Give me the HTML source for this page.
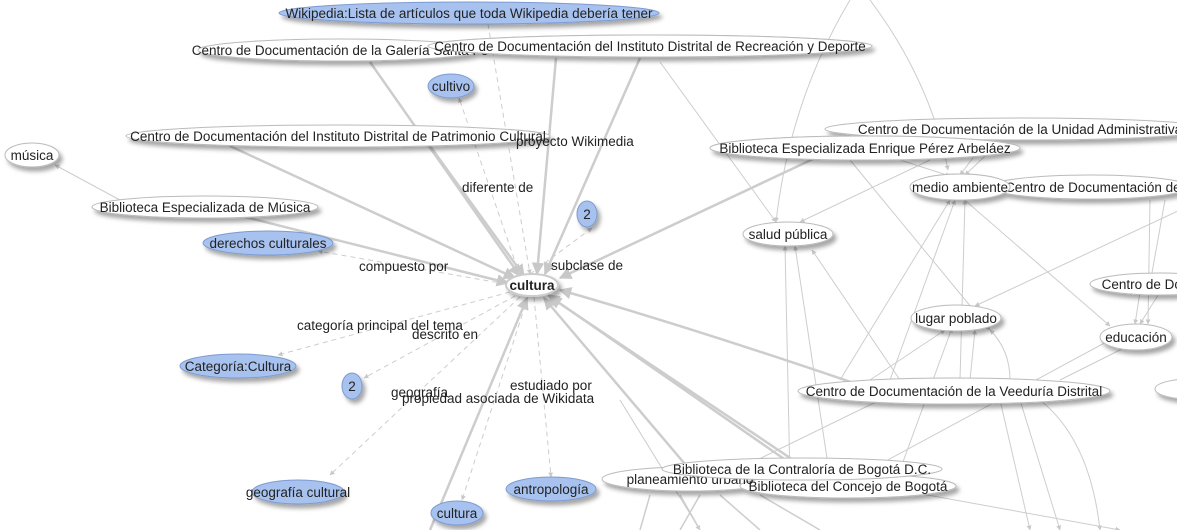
<!DOCTYPE html>
<html><head><meta charset="utf-8"><style>
html,body{margin:0;padding:0;background:#fff;width:1177px;height:530px;overflow:hidden}
svg text{font-family:"Liberation Sans",sans-serif;font-size:13.5px;fill:#222}
</style></head><body>
<svg width="1177" height="530" viewBox="0 0 1177 530" xmlns="http://www.w3.org/2000/svg">
<defs>
<marker id="a" viewBox="0 0 10 10" refX="9" refY="5" markerWidth="5" markerHeight="5" orient="auto"><path d="M0,0L10,5L0,10z" fill="#c8c8c8"/></marker>
<filter id="s" x="-20%" y="-50%" width="140%" height="220%"><feDropShadow dx="3" dy="4" stdDeviation="2" flood-color="#000" flood-opacity="0.35"/></filter>
</defs>
<g fill="none" stroke="#cdcdcd">
<g stroke-width="2.5" marker-end="url(#a)">
<path d="M370,62 L520,276"/>
<path d="M556,58 L537,274"/>
<path d="M640,58 L545,274"/>
<path d="M430,146 L524,276"/>
<path d="M230,146 L515,278"/>
<path d="M245,217 L508,283"/>
<path d="M828,152 L560,278"/>
<path d="M880,392 Q700,330 560,290"/>
<path d="M800,470 L548,295"/>
<path d="M820,478 L550,297"/>
<path d="M690,470 L544,298"/>
<path d="M430,530 L527,298"/>
</g>
<g stroke-dasharray="5,4" marker-end="url(#a)" stroke-width="1">
<path d="M488,24 L530,274"/>
<path d="M520,276 L459,98"/>
<path d="M530,274 L592,228"/>
<path d="M506,284 L318,251"/>
<path d="M510,292 L278,355"/>
<path d="M515,296 L364,378"/>
<path d="M520,297 L330,475"/>
<path d="M534,297 L551,477"/>
<path d="M528,297 L462,500"/>
</g>
<g stroke-width="1" marker-end="url(#a)">
<path d="M120,200 L55,165"/>
<path d="M660,62 L776,222"/>
<path d="M850,0 Q790,100 776,222"/>
<path d="M870,0 Q930,80 948,170"/>
<path d="M900,160 L950,176"/>
<path d="M985,142 L960,175"/>
<path d="M1000,142 L965,175"/>
<path d="M930,160 L800,222"/>
<path d="M850,160 L990,330"/>
<path d="M1180,210 L975,306"/>
<path d="M1150,200 L1148,324"/>
<path d="M960,196 L1110,326"/>
<path d="M1165,200 L1150,284"/>
<path d="M1140,292 L1135,324"/>
<path d="M1160,292 L1140,324"/>
<path d="M790,480 L785,246"/>
<path d="M830,478 L795,246"/>
<path d="M900,380 L812,250"/>
<path d="M840,380 L950,200"/>
<path d="M890,380 L955,200"/>
<path d="M960,380 L965,200"/>
<path d="M900,470 L952,328"/>
<path d="M870,380 L945,330"/>
<path d="M970,380 L975,330"/>
<path d="M1010,380 Q1010,350 990,330"/>
<path d="M1060,380 L1130,345"/>
<path d="M860,475 Q1000,400 1110,340"/>
<path d="M1040,400 Q1090,440 1100,530"/>
<path d="M1000,400 L1030,530"/>
<path d="M1020,400 L1060,530"/>
<path d="M880,400 L720,478"/>
<path d="M900,490 L1120,530"/>
<path d="M620,400 L700,530"/>
</g>
<path d="M700,495 L680,530 M720,495 L760,530 M760,495 L820,530 M650,495 L640,530 M680,495 L700,530" stroke-width="1.5"/>
</g>
<g filter="url(#s)" stroke="#bbb">
<ellipse cx="469" cy="13" rx="190" ry="11" fill="#a7c2ee" stroke="#7d9bd0"/>
<ellipse cx="340" cy="50" rx="142" ry="11" fill="#fff"/>
<ellipse cx="650" cy="46" rx="222" ry="11" fill="#fff"/>
<ellipse cx="451" cy="86" rx="23" ry="12" fill="#a7c2ee" stroke="#7d9bd0"/>
<ellipse cx="338" cy="136" rx="212" ry="11" fill="#fff"/>
<ellipse cx="32" cy="155" rx="27" ry="12" fill="#fff"/>
<ellipse cx="205" cy="207" rx="113" ry="11" fill="#fff"/>
<ellipse cx="268" cy="243" rx="65" ry="12" fill="#a7c2ee" stroke="#7d9bd0"/>
<ellipse cx="587" cy="214" rx="10" ry="13" fill="#a7c2ee" stroke="#7d9bd0"/>
<ellipse cx="1020" cy="129" rx="195" ry="11" fill="#fff"/>
<ellipse cx="865" cy="148" rx="155" ry="12" fill="#fff"/>
<ellipse cx="1090" cy="187" rx="100" ry="12" fill="#fff"/>
<ellipse cx="960" cy="187" rx="50" ry="13" fill="#fff"/>
<ellipse cx="788" cy="234" rx="45" ry="12" fill="#fff"/>
<ellipse cx="532" cy="285" rx="26" ry="11" fill="#fff" stroke="#ccc" stroke-width="2"/>
<ellipse cx="1160" cy="284" rx="70" ry="11" fill="#fff"/>
<ellipse cx="956" cy="318" rx="45" ry="13" fill="#fff"/>
<ellipse cx="1136" cy="337" rx="36" ry="13" fill="#fff"/>
<ellipse cx="238" cy="366" rx="58" ry="12" fill="#a7c2ee" stroke="#7d9bd0"/>
<ellipse cx="352" cy="386" rx="10" ry="13" fill="#a7c2ee" stroke="#7d9bd0"/>
<ellipse cx="1190" cy="389" rx="35" ry="10" fill="#fff"/>
<ellipse cx="954" cy="391" rx="156" ry="13" fill="#fff"/>
<ellipse cx="690" cy="479" rx="88" ry="12" fill="#fff"/>
<ellipse cx="848" cy="486" rx="108" ry="12" fill="#fff"/>
<ellipse cx="298" cy="492" rx="46" ry="12" fill="#a7c2ee" stroke="#7d9bd0"/>
<ellipse cx="551" cy="489" rx="45" ry="12" fill="#a7c2ee" stroke="#7d9bd0"/>
<ellipse cx="457" cy="513" rx="26" ry="12" fill="#a7c2ee" stroke="#7d9bd0"/>
</g>
<g text-anchor="middle">
<text x="469" y="18">Wikipedia:Lista de artículos que toda Wikipedia debería tener</text>
<text x="340" y="55">Centro de Documentación de la Galería Santa Fe</text>
<ellipse cx="650" cy="46" rx="222" ry="11" fill="#fff" stroke="#bbb"/>
<text x="650" y="51">Centro de Documentación del Instituto Distrital de Recreación y Deporte</text>
<text x="451" y="91">cultivo</text>
<text x="338" y="141">Centro de Documentación del Instituto Distrital de Patrimonio Cultural</text>
<text x="32" y="160">música</text>
<text x="205" y="212">Biblioteca Especializada de Música</text>
<text x="268" y="248">derechos culturales</text>
<text x="587" y="219">2</text>
<text x="1020" y="134">Centro de Documentación de la Unidad Administrativa</text>
<text x="1100" y="192">Centro de Documentación de la</text>
<ellipse cx="960" cy="187" rx="50" ry="13" fill="#fff" stroke="#bbb"/>
<text x="960" y="192">medio ambiente</text>
<ellipse cx="865" cy="148" rx="155" ry="12" fill="#fff" stroke="#bbb"/>
<text x="865" y="153">Biblioteca Especializada Enrique Pérez Arbeláez</text>
<text x="788" y="239">salud pública</text>
<text x="532" y="290" font-weight="bold">cultura</text>
<text x="1180" y="289">Centro de Documentación</text>
<text x="956" y="323">lugar poblado</text>
<text x="1136" y="342">educación</text>
<text x="238" y="371">Categoría:Cultura</text>
<text x="352" y="391">2</text>
<text x="1200" y="394">Centro</text>
<text x="954" y="396">Centro de Documentación de la Veeduría Distrital</text>
<text x="690" y="484">planeamiento urbano</text>
<text x="848" y="491">Biblioteca del Concejo de Bogotá</text>
<ellipse cx="802" cy="469" rx="140" ry="11" fill="#fff" stroke="#bbb"/>
<text x="802" y="474">Biblioteca de la Contraloría de Bogotá D.C.</text>
<text x="298" y="497">geografía cultural</text>
<text x="551" y="494">antropología</text>
<text x="457" y="518">cultura</text>
</g>
<g>
<text x="516" y="146">proyecto Wikimedia</text>
<text x="462" y="192">diferente de</text>
<text x="551" y="270">subclase de</text>
<text x="359" y="271">compuesto por</text>
<text x="297" y="330">categoría principal del tema</text>
<text x="412" y="339">descrito en</text>
<text x="391" y="397">geografía</text>
<text x="402" y="403">propiedad asociada de Wikidata</text>
<text x="510" y="390">estudiado por</text>
</g>
</svg>
</body></html>
